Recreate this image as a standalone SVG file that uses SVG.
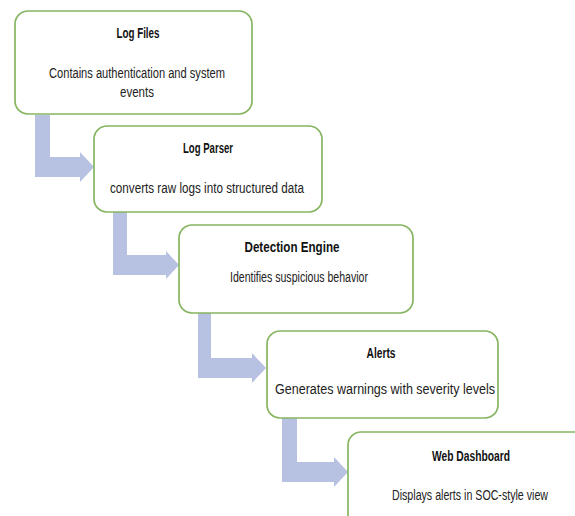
<svg xmlns="http://www.w3.org/2000/svg" width="575" height="516" viewBox="0 0 575 516">
<style>
.box{fill:#ffffff;stroke:#86b560;stroke-width:1.7}
.arr{fill:#b7c2e2}
.t{font-family:"Liberation Sans",Arial,sans-serif;font-weight:bold;font-size:14.5px;fill:#111;text-anchor:middle}
.b{font-family:"Liberation Sans",Arial,sans-serif;font-size:15.5px;fill:#222;text-anchor:middle}
</style>
<rect width="575" height="516" fill="#ffffff"/>
<g id="connectors">
<path class="arr" d="M35,115 H50 V157 H80 V152 L94,167 L80,182 V177 H35 Z"/>
<path class="arr" d="M113,212 H127 V255 H166 V251 L179,265 L166,279 V275 H113 Z"/>
<path class="arr" d="M198,313 H211 V358 H252 V353 L266,368 L252,383 V378 H198 Z"/>
<path class="arr" d="M282,418 H297 V462 H334 V457 L348,472 L334,487 V482 H282 Z"/>
</g>
<g id="log-files">
<rect class="box" x="15" y="11" width="237" height="103" rx="13"/>
<text class="t" x="138" y="38" textLength="43" lengthAdjust="spacingAndGlyphs">Log Files</text>
<text class="b" x="137" y="78" textLength="176" lengthAdjust="spacingAndGlyphs">Contains authentication and system</text>
<text class="b" x="137" y="97" textLength="34" lengthAdjust="spacingAndGlyphs">events</text>
</g>
<g id="log-parser">
<rect class="box" x="94" y="126" width="228" height="86" rx="13"/>
<text class="t" x="208" y="153" textLength="50" lengthAdjust="spacingAndGlyphs">Log Parser</text>
<text class="b" x="207" y="193" textLength="194" lengthAdjust="spacingAndGlyphs">converts raw logs into structured data</text>
</g>
<g id="detection-engine">
<rect class="box" x="179" y="225" width="234" height="88" rx="13"/>
<text class="t" x="292" y="252" textLength="95" lengthAdjust="spacingAndGlyphs">Detection Engine</text>
<text class="b" x="299" y="282" textLength="138" lengthAdjust="spacingAndGlyphs">Identifies suspicious behavior</text>
</g>
<g id="alerts">
<rect class="box" x="267" y="331" width="231" height="87" rx="13"/>
<text class="t" x="381" y="358" textLength="29" lengthAdjust="spacingAndGlyphs">Alerts</text>
<text class="b" x="385" y="394" textLength="220" lengthAdjust="spacingAndGlyphs">Generates warnings with severity levels</text>
</g>
<g id="web-dashboard">
<rect class="box" x="348" y="432" width="250" height="100" rx="13"/>
<text class="t" x="471" y="461" textLength="78" lengthAdjust="spacingAndGlyphs">Web Dashboard</text>
<text class="b" x="470" y="500" textLength="156" lengthAdjust="spacingAndGlyphs">Displays alerts in SOC-style view</text>
</g>
</svg>
